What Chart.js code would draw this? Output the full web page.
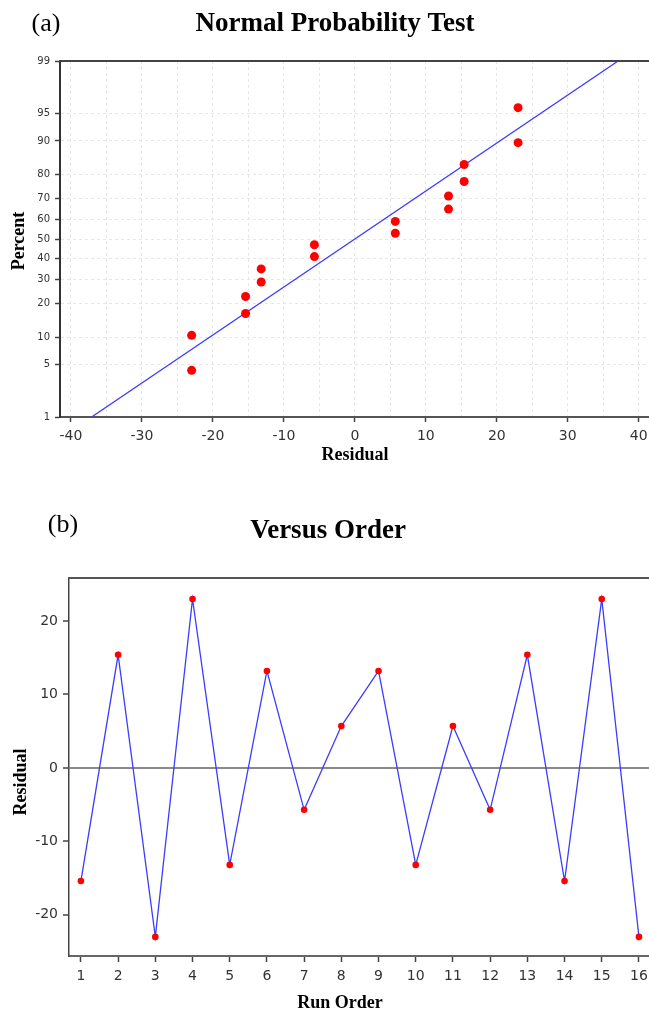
<!DOCTYPE html>
<html>
<head>
<meta charset="utf-8">
<title>Normal Probability Test / Versus Order</title>
<script src="https://cdn.jsdelivr.net/npm/chart.js@4.4.1/dist/chart.umd.min.js"></script>
<style>
  body { margin: 0; background: #fff; }
  #wrap { position: relative; width: 649px; height: 1013px; }
  canvas { display: block; position: absolute; left: 0; }
  #probPlot { top: 0; }
  #orderPlot { top: 470px; }
</style>
</head>
<body>
<div id="wrap">
  <canvas id="probPlot" width="649" height="470"></canvas>
  <canvas id="orderPlot" width="649" height="543"></canvas>
</div>
<script>
// (a) normal probability plot: residuals (sorted) and their plotting percent
const probResiduals = [-23.0, -23.0, -15.4, -15.4, -13.2, -13.2, -5.7, -5.7, 5.7, 5.7, 13.2, 13.2, 15.4, 15.4, 23.0, 23.0];
const probPercents  = [4.3, 10.4, 16.5, 22.6, 28.7, 34.8, 40.9, 47.0, 53.0, 59.1, 65.2, 71.3, 77.4, 83.5, 89.6, 95.7];
// fitted reference line (ends of the line on the plot)
const fitResiduals = [-37.1, 37.1];
const fitPercents  = [1, 99];
const percentTicks = [1, 5, 10, 20, 30, 40, 50, 60, 70, 80, 90, 95, 99];

// (b) residuals versus run order
const runOrder = [1, 2, 3, 4, 5, 6, 7, 8, 9, 10, 11, 12, 13, 14, 15, 16];
const orderResiduals = [-15.4, 15.4, -23.0, 23.0, -13.2, 13.2, -5.7, 5.7, 13.2, -13.2, 5.7, -5.7, 15.4, -15.4, 23.0, -23.0];

// inverse of the standard normal cdf (Acklam)
function normInv(p) {
  const a = [-3.969683028665376e+01, 2.209460984245205e+02, -2.759285104469687e+02, 1.383577518672690e+02, -3.066479806614716e+01, 2.506628277459239e+00];
  const b = [-5.447609879822406e+01, 1.615858368580409e+02, -1.556989798598866e+02, 6.680131188771972e+01, -1.328068155288572e+01];
  const c = [-7.784894002430293e-03, -3.223964580411365e-01, -2.400758277161838e+00, -2.549732539343734e+00, 4.374664141464968e+00, 2.938163982698783e+00];
  const d = [7.784695709041462e-03, 3.224671290700398e-01, 2.445134137142996e+00, 3.754408661907416e+00];
  const pl = 0.02425, ph = 1 - pl;
  let q, r;
  if (p < pl) {
    q = Math.sqrt(-2 * Math.log(p));
    return (((((c[0]*q+c[1])*q+c[2])*q+c[3])*q+c[4])*q+c[5]) / ((((d[0]*q+d[1])*q+d[2])*q+d[3])*q+1);
  }
  if (p > ph) {
    q = Math.sqrt(-2 * Math.log(1 - p));
    return -(((((c[0]*q+c[1])*q+c[2])*q+c[3])*q+c[4])*q+c[5]) / ((((d[0]*q+d[1])*q+d[2])*q+d[3])*q+1);
  }
  q = p - 0.5; r = q * q;
  return (((((a[0]*r+a[1])*r+a[2])*r+a[3])*r+a[4])*r+a[5])*q / (((((b[0]*r+b[1])*r+b[2])*r+b[3])*r+b[4])*r+1);
}

// probability (probit) axis in percent
class ProbitScale extends Chart.LinearScale {
  buildTicks() {
    return percentTicks.map(v => ({ value: v }));
  }
  getPixelForValue(value) {
    const z0 = normInv(this.min / 100), z1 = normInv(this.max / 100);
    return this.getPixelForDecimal((normInv(value / 100) - z0) / (z1 - z0));
  }
  getValueForPixel(pixel) {
    return this.min + this.getDecimalForPixel(pixel) * (this.max - this.min);
  }
}
ProbitScale.id = 'probit';
ProbitScale.defaults = Chart.LinearScale.defaults;
Chart.register(ProbitScale);

// text labels and the top frame line
const panelText = {
  id: 'panelText',
  afterDraw(chart, args, opts) {
    const ctx = chart.ctx;
    const ca = chart.chartArea;
    ctx.save();
    ctx.strokeStyle = opts.frameColor || '#444';
    ctx.lineWidth = 2;
    ctx.beginPath();
    ctx.moveTo(ca.left - 1, ca.top);
    ctx.lineTo(chart.width, ca.top);
    ctx.stroke();
    ctx.restore();
    (opts.items || []).forEach(t => {
      ctx.save();
      ctx.font = t.font;
      ctx.fillStyle = '#000';
      ctx.textAlign = 'center';
      ctx.textBaseline = t.baseline || 'middle';
      ctx.translate(t.x, t.y);
      if (t.rotate) ctx.rotate(t.rotate);
      ctx.fillText(t.text, 0, 0);
      ctx.restore();
    });
  }
};

const tickFont = { family: 'DejaVu Sans', size: 14 };
const serifBold = (s) => 'bold ' + s + 'px "Liberation Serif", "Times New Roman", serif';
const serifReg = (s) => s + 'px "Liberation Serif", "Times New Roman", serif';

// the x axis runs on to the right edge of the picture
function fitX(height) {
  return s => { s.height = height; s.paddingLeft = 0; s.paddingRight = 0; };
}

new Chart(document.getElementById('probPlot'), {
  type: 'scatter',
  data: {
    datasets: [
      {
        label: 'Residuals',
        data: probResiduals.map((r, i) => ({ x: r, y: probPercents[i] })),
        pointRadius: 4.5,
        pointBackgroundColor: '#ff0000',
        pointBorderColor: '#ff0000',
        pointBorderWidth: 0
      },
      {
        label: 'Fit',
        type: 'line',
        data: fitResiduals.map((r, i) => ({ x: r, y: fitPercents[i] })),
        borderColor: '#3c3cff',
        borderWidth: 1.3,
        pointRadius: 0,
        fill: false
      }
    ]
  },
  options: {
    responsive: false,
    animation: false,
    events: [],
    layout: { autoPadding: false, padding: { top: 61, left: 0, right: 0, bottom: 0 } },
    plugins: {
      legend: { display: false },
      tooltip: { enabled: false },
      panelText: {
        frameColor: '#444',
        items: [
          { text: '(a)', x: 46, y: 31, baseline: 'alphabetic', font: serifReg(26) },
          { text: 'Normal Probability Test', x: 335, y: 31, baseline: 'alphabetic', font: serifBold(27) },
          { text: 'Percent', x: 19, y: 241, rotate: -Math.PI / 2, font: serifBold(18) },
          { text: 'Residual', x: 355, y: 455, font: serifBold(18) }
        ]
      }
    },
    scales: {
      x: {
        type: 'linear',
        min: -41.55,
        max: 41.45,
        afterFit: fitX(53),
        ticks: {
          stepSize: 5,
          includeBounds: false,
          autoSkip: false,
          maxRotation: 0,
          padding: 6,
          color: '#333',
          font: tickFont,
          callback: v => (v % 10 === 0 ? v : '')
        },
        grid: {
          color: '#e6e6e6',
          lineWidth: 1,
          tickLength: 5,
          tickWidth: 1.5,
          tickColor: c => (c.tick && c.tick.value % 10 === 0 ? '#444' : 'rgba(0,0,0,0)')
        },
        border: { color: '#555', width: 2, dash: [3, 3] }
      },
      y: {
        type: 'probit',
        min: 1,
        max: 99,
        afterFit: s => { s.width = 60; },
        ticks: {
          padding: 5,
          color: '#333',
          font: { family: 'DejaVu Sans', size: 10 },
          callback: (v, i) => percentTicks[i]
        },
        grid: {
          color: '#e6e6e6',
          lineWidth: 1,
          tickLength: 5,
          tickWidth: 1.5,
          tickColor: '#444'
        },
        border: { color: '#333', width: 2, dash: [3, 3] }
      }
    }
  },
  plugins: [panelText]
});

new Chart(document.getElementById('orderPlot'), {
  type: 'line',
  data: {
    datasets: [{
      label: 'Residual',
      data: runOrder.map((r, i) => ({ x: r, y: orderResiduals[i] })),
      borderColor: '#3c3cff',
      borderWidth: 1.3,
      tension: 0,
      pointRadius: 3.3,
      pointBackgroundColor: '#ff0000',
      pointBorderColor: '#ff0000',
      pointBorderWidth: 0,
      fill: false
    }]
  },
  options: {
    responsive: false,
    animation: false,
    events: [],
    layout: { autoPadding: false, padding: { top: 108, left: 0, right: 0, bottom: 0 } },
    plugins: {
      legend: { display: false },
      tooltip: { enabled: false },
      panelText: {
        frameColor: '#555',
        items: [
          { text: '(b)', x: 63, y: 62, baseline: 'alphabetic', font: serifReg(26) },
          { text: 'Versus Order', x: 328, y: 68, baseline: 'alphabetic', font: serifBold(27) },
          { text: 'Residual', x: 21, y: 312, rotate: -Math.PI / 2, font: serifBold(18) },
          { text: 'Run Order', x: 340, y: 533, font: serifBold(18) }
        ]
      }
    },
    scales: {
      x: {
        type: 'linear',
        min: 0.68,
        max: 16.27,
        afterFit: fitX(57),
        ticks: {
          stepSize: 1,
          includeBounds: false,
          autoSkip: false,
          maxRotation: 0,
          padding: 6,
          color: '#333',
          font: tickFont
        },
        grid: {
          drawOnChartArea: false,
          tickLength: 6,
          tickWidth: 1.5,
          tickColor: '#444'
        },
        border: { color: '#666', width: 2 }
      },
      y: {
        type: 'linear',
        min: -25.6,
        max: 25.85,
        afterFit: s => { s.width = 69; },
        ticks: {
          stepSize: 10,
          includeBounds: false,
          padding: 5,
          color: '#333',
          font: tickFont
        },
        grid: {
          color: c => (c.tick && c.tick.value === 0 ? '#8a8a8a' : 'rgba(0,0,0,0)'),
          lineWidth: 2,
          tickLength: 6,
          tickWidth: 1.5,
          tickColor: '#444'
        },
        border: { color: '#444', width: 1.5 }
      }
    }
  },
  plugins: [panelText]
});
</script>
</body>
</html>
